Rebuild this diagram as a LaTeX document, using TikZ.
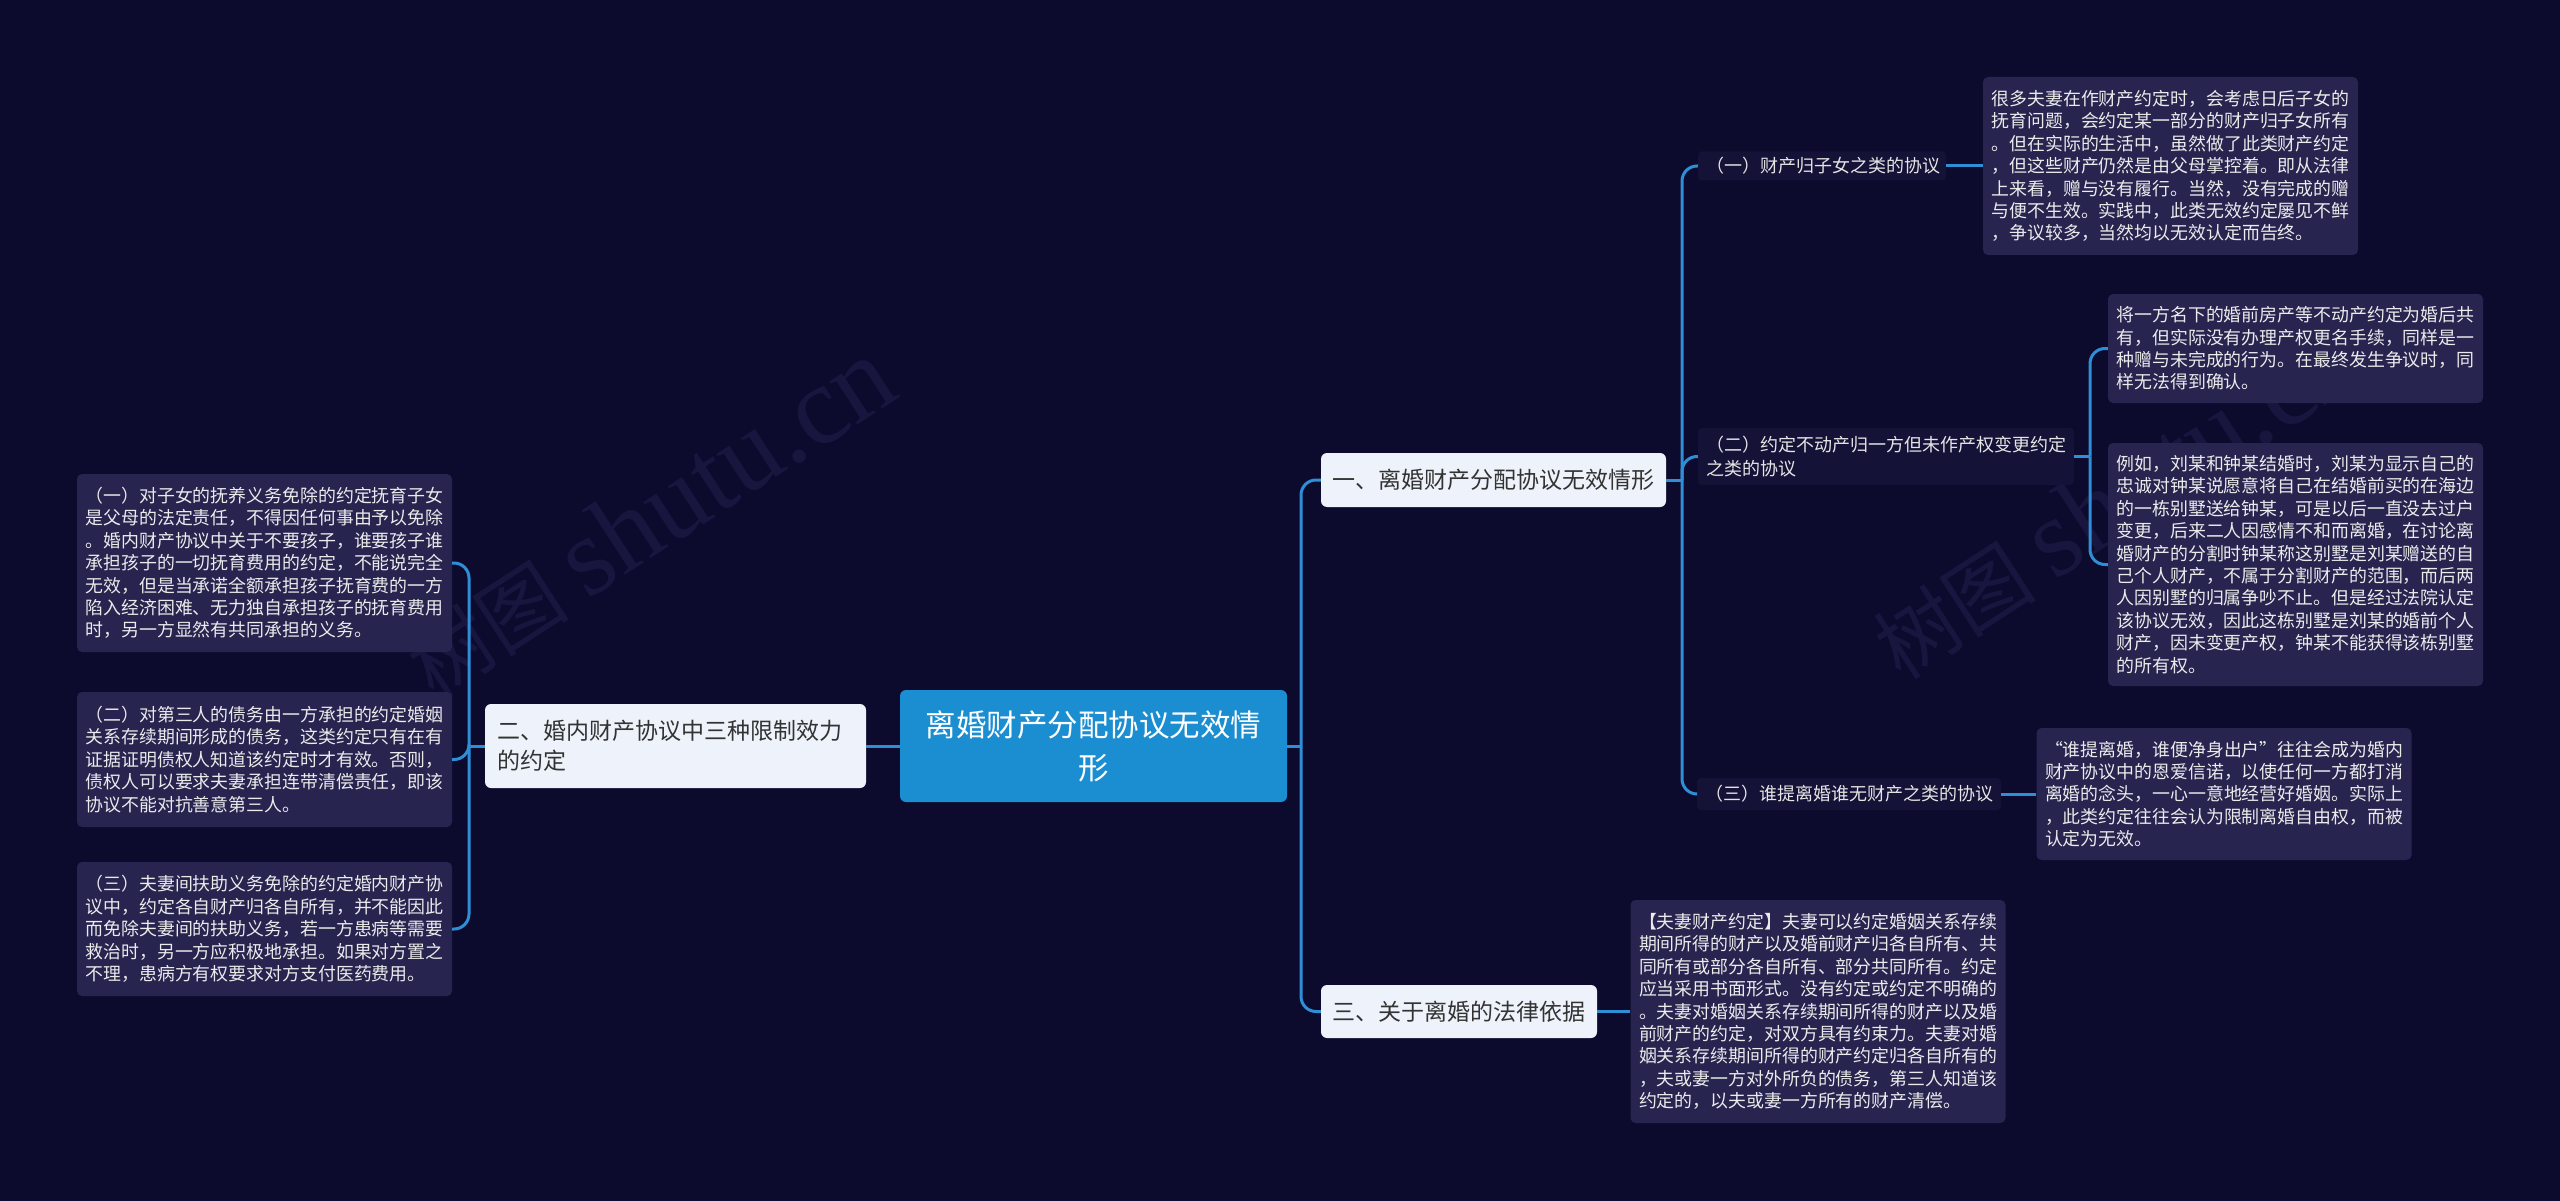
\documentclass[tikz,border=0pt]{standalone}
\usepackage{fontspec}
\setmainfont{Noto Sans CJK SC}
\newfontfamily\wmserif{Liberation Serif}
\definecolor{bgc}{HTML}{0C0A2D}
\definecolor{leafc}{HTML}{27244F}
\definecolor{labc}{HTML}{141236}
\definecolor{nodec}{HTML}{EEF3FB}
\definecolor{centc}{HTML}{1B8ED1}
\definecolor{linec}{HTML}{2E8FD6}
\definecolor{wmc}{HTML}{18163F}
\definecolor{ntext}{HTML}{333333}
\begin{document}
\begin{tikzpicture}[x=1pt,y=-1pt,
  leafbox/.style={fill=leafc, rounded corners=5pt, text=white!92!black,
    font=\fontsize{17.9}{22.4}\selectfont, align=left, inner xsep=8.5pt, inner ysep=0pt,
    text width=358pt, minimum width=375pt},
  labbox/.style={fill=labc, rounded corners=4pt, text=white!90!black,
    font=\fontsize{18}{24}\selectfont, align=left, inner xsep=8pt, inner ysep=0pt},
  branchbox/.style={fill=nodec, rounded corners=6pt, text=ntext,
    font=\fontsize{23}{30}\selectfont, align=left, inner ysep=0pt},
  centbox/.style={fill=centc, rounded corners=6pt, text=white,
    font=\fontsize{30.5}{43}\selectfont, align=center, inner ysep=0pt},
  conn/.style={draw=linec, line width=3pt, rounded corners=15pt},
  wm/.style={text=wmc, font=\fontsize{82}{90}\selectfont}]
\useasboundingbox (0,0) rectangle (2560,1201);
\fill[bgc] (0,0) rectangle (2560,1201);

% watermarks
\node[wm, rotate=33] (wmA) at (649,518) {树图 {\wmserif\fontsize{112}{120}\selectfont shutu.cn}};
\node[wm, rotate=33] (wmB) at (2116,499) {树图 {\wmserif\fontsize{112}{120}\selectfont shutu.cn}};

% central node
\node[centbox, text width=347pt, inner xsep=20pt, minimum height=112pt] (C) at (1093.5,746)
  {离婚财产分配协议无效情\\形};

% level 1
\node[branchbox, text width=357pt, inner xsep=12pt, minimum height=84pt] (B2) at (675.5,746)
  {二、婚内财产协议中三种限制效力\\的约定};
\node[branchbox, text width=322pt, inner xsep=11.5pt, minimum height=54pt] (B1) at (1493.5,480)
  {一、离婚财产分配协议无效情形};
\node[branchbox, text width=253pt, inner xsep=11.5pt, minimum height=53pt] (B3) at (1459,1011.5)
  {三、关于离婚的法律依据};

% level 2 labels
\node[labbox, text width=232pt, minimum height=29pt] (S1) at (1822,166)
  {（一）财产归子女之类的协议};
\node[labbox, text width=360pt, minimum height=57pt] (S2) at (1886,456.5)
  {（二）约定不动产归一方但未作产权变更约定\\之类的协议};
\node[labbox, text width=288pt, minimum height=32pt] (S3) at (1849,794)
  {（三）谁提离婚谁无财产之类的协议};

% right leaves
\node[leafbox, minimum height=178pt] (R1) at (2170.5,166)
  {很多夫妻在作财产约定时，会考虑日后子女的\\抚育问题，会约定某一部分的财产归子女所有\\。但在实际的生活中，虽然做了此类财产约定\\，但这些财产仍然是由父母掌控着。即从法律\\上来看，赠与没有履行。当然，没有完成的赠\\与便不生效。实践中，此类无效约定屡见不鲜\\，争议较多，当然均以无效认定而告终。};
\node[leafbox, minimum height=109pt] (R2a) at (2295.5,348.5)
  {将一方名下的婚前房产等不动产约定为婚后共\\有，但实际没有办理产权更名手续，同样是一\\种赠与未完成的行为。在最终发生争议时，同\\样无法得到确认。};
\node[leafbox, minimum height=243pt] (R2b) at (2295.5,564.5)
  {例如，刘某和钟某结婚时，刘某为显示自己的\\忠诚对钟某说愿意将自己在结婚前买的在海边\\的一栋别墅送给钟某，可是以后一直没去过户\\变更，后来二人因感情不和而离婚，在讨论离\\婚财产的分割时钟某称这别墅是刘某赠送的自\\己个人财产，不属于分割财产的范围，而后两\\人因别墅的归属争吵不止。但是经过法院认定\\该协议无效，因此这栋别墅是刘某的婚前个人\\财产，因未变更产权，钟某不能获得该栋别墅\\的所有权。};
\node[leafbox, minimum height=132pt] (R3) at (2224,794)
  {“谁提离婚，谁便净身出户”往往会成为婚内\\财产协议中的恩爱信诺，以使任何一方都打消\\离婚的念头，一心一意地经营好婚姻。实际上\\，此类约定往往会认为限制离婚自由权，而被\\认定为无效。};
\node[leafbox, minimum height=223pt] (RB3) at (1818,1011.5)
  {【夫妻财产约定】夫妻可以约定婚姻关系存续\\期间所得的财产以及婚前财产归各自所有、共\\同所有或部分各自所有、部分共同所有。约定\\应当采用书面形式。没有约定或约定不明确的\\。夫妻对婚姻关系存续期间所得的财产以及婚\\前财产的约定，对双方具有约束力。夫妻对婚\\姻关系存续期间所得的财产约定归各自所有的\\，夫或妻一方对外所负的债务，第三人知道该\\约定的，以夫或妻一方所有的财产清偿。};

% left leaves
\node[leafbox, minimum height=178pt] (L1) at (264.5,563)
  {（一）对子女的抚养义务免除的约定抚育子女\\是父母的法定责任，不得因任何事由予以免除\\。婚内财产协议中关于不要孩子，谁要孩子谁\\承担孩子的一切抚育费用的约定，不能说完全\\无效，但是当承诺全额承担孩子抚育费的一方\\陷入经济困难、无力独自承担孩子的抚育费用\\时，另一方显然有共同承担的义务。};
\node[leafbox, minimum height=135pt] (L2) at (264.5,759.5)
  {（二）对第三人的债务由一方承担的约定婚姻\\关系存续期间形成的债务，这类约定只有在有\\证据证明债权人知道该约定时才有效。否则，\\债权人可以要求夫妻承担连带清偿责任，即该\\协议不能对抗善意第三人。};
\node[leafbox, minimum height=134pt] (L3) at (264.5,929)
  {（三）夫妻间扶助义务免除的约定婚内财产协\\议中，约定各自财产归各自所有，并不能因此\\而免除夫妻间的扶助义务，若一方患病等需要\\救治时，另一方应积极地承担。如果对方置之\\不理，患病方有权要求对方支付医药费用。};

% junctions
\coordinate (jC) at (1301,746);
\coordinate (jB1) at (1682,480);
\coordinate (jS2) at (2090,456.5);
\coordinate (jB2) at (469,746);

% connectors
\draw[conn] (C.east) -- (jC);
\draw[conn] (jC) |- (B1.west);
\draw[conn] (jC) |- (B3.west);
\draw[conn] (B1.east) -- (jB1);
\draw[conn] (jB1) |- (S1.west);
\draw[conn] (jB1) |- (S2.west);
\draw[conn] (jB1) |- (S3.west);
\draw[conn] (S1.east) -- (R1.west);
\draw[conn] (S2.east) -- (jS2);
\draw[conn] (jS2) |- (R2a.west);
\draw[conn] (jS2) |- (R2b.west);
\draw[conn] (S3.east) -- (R3.west);
\draw[conn] (B3.east) -- (RB3.west);
\draw[conn] (C.west) -- (B2.east);
\draw[conn] (B2.west) -- (jB2);
\draw[conn] (jB2) |- (L1.east);
\draw[conn] (jB2) |- (L2.east);
\draw[conn] (jB2) |- (L3.east);
\end{tikzpicture}
\end{document}
